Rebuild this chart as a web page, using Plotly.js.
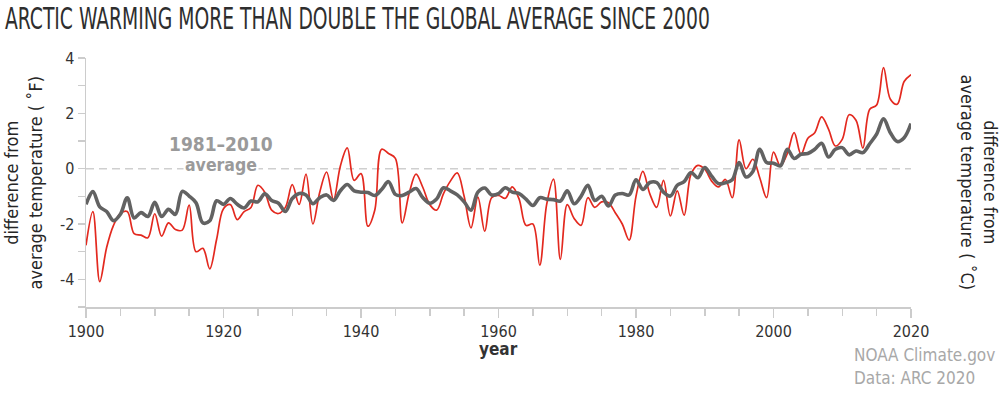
<!DOCTYPE html>
<html>
<head>
<meta charset="utf-8">
<script src="https://cdn.plot.ly/plotly-3.0.1.min.js"></script>
<style>html,body{margin:0;padding:0;background:#fff;}#chart{width:1000px;height:394px;}</style>
</head>
<body>
<div id="chart"></div>
<script>
const years = [1900,1901,1902,1903,1904,1905,1906,1907,1908,1909,
1910,1911,1912,1913,1914,1915,1916,1917,1918,1919,
1920,1921,1922,1923,1924,1925,1926,1927,1928,1929,
1930,1931,1932,1933,1934,1935,1936,1937,1938,1939,
1940,1941,1942,1943,1944,1945,1946,1947,1948,1949,
1950,1951,1952,1953,1954,1955,1956,1957,1958,1959,
1960,1961,1962,1963,1964,1965,1966,1967,1968,1969,
1970,1971,1972,1973,1974,1975,1976,1977,1978,1979,
1980,1981,1982,1983,1984,1985,1986,1987,1988,1989,
1990,1991,1992,1993,1994,1995,1996,1997,1998,1999,
2000,2001,2002,2003,2004,2005,2006,2007,2008,2009,
2010,2011,2012,2013,2014,2015,2016,2017,2018,2019,2020];

// Arctic temperature anomaly (°F, vs 1981–2010)
const arcticF = [-2.77,-1.55,-4.08,-2.85,-2.05,-1.62,-1.55,-2.35,-2.4,-2.5,
-1.63,-2.44,-1.96,-2.2,-2.22,-1.32,-3.0,-2.88,-3.62,-2.55,
-1.45,-1.3,-1.84,-1.55,-1.4,-0.6,-0.85,-1.5,-1.62,-1.4,
-0.58,-1.29,-0.2,-2.0,-0.85,-0.12,-1.12,0.1,0.75,-0.42,
-0.18,-2.08,-1.5,0.7,0.55,0.37,-1.96,-0.9,-0.2,-0.68,
-1.3,-1.5,-0.9,-0.45,-0.15,-1.0,-2.14,-1.03,-2.26,-1.05,
-0.97,-1.07,-0.66,-1.1,-2.05,-2.0,-3.49,-1.3,-0.38,-3.28,
-1.3,-1.8,-2.05,-1.05,-1.4,-1.2,-1.23,-1.6,-2.0,-2.58,
-1.0,-0.1,-0.9,-1.4,-0.42,-1.71,-0.8,-1.68,-0.2,0.12,
-0.02,-0.45,-0.66,-0.39,-1.05,1.04,0.0,0.34,-0.33,-1.05,
0.6,0.1,0.54,1.3,0.52,1.1,1.3,1.87,1.43,0.82,
1.06,1.95,1.75,0.74,2.15,2.3,3.65,2.51,2.33,3.15,3.4];

// Global temperature anomaly (°F, vs 1981–2010)
const globalF = [-1.29,-0.83,-1.38,-1.55,-1.88,-1.65,-1.05,-1.78,-1.59,-1.73,
-1.22,-1.73,-1.47,-1.65,-0.82,-0.99,-1.23,-1.96,-1.88,-1.16,
-1.29,-1.08,-1.29,-1.42,-1.17,-1.2,-0.91,-1.15,-1.25,-1.55,
-1.08,-0.9,-0.95,-1.27,-1.05,-0.95,-1.15,-0.8,-0.57,-0.8,
-0.85,-0.86,-0.97,-0.75,-0.47,-0.93,-0.97,-0.85,-0.72,-1.05,
-1.25,-1.1,-0.69,-0.8,-0.95,-1.2,-1.5,-0.85,-0.7,-0.95,
-0.9,-0.69,-0.85,-0.9,-1.1,-1.33,-1.05,-1.1,-1.12,-1.17,
-0.8,-1.27,-1.0,-0.6,-1.15,-1.0,-1.35,-0.95,-0.9,-0.95,
-0.4,-0.75,-0.5,-0.5,-0.85,-0.99,-0.6,-0.47,-0.14,-0.33,
0.04,-0.27,-0.54,-0.51,-0.4,0.22,-0.3,-0.1,0.7,0.22,
0.2,0.1,0.7,0.37,0.52,0.55,0.7,0.92,0.42,0.7,
0.76,0.5,0.64,0.58,0.9,1.25,1.8,1.3,0.98,1.12,1.63];

const xTickVals = [1900,1920,1940,1960,1980,2000,2020];
const xTickText = ['1900','1920','1940','1960','1980','2000','2020'];
const yFTickVals = [-4,-2,0,2,4];
const yFTickText = ['-4','-2','0','2','4'];
const yFMinorVals = [-5,-3,-1,1,3];
const yCTickVals = [-2,-1,0,1,2];
const yCTickText = ['-2','-1','0','1','2'];
const yCMinorVals = [-2.5,-1.5,-0.5,0.5,1.5];

const titleText = 'ARCTIC WARMING MORE THAN DOUBLE THE GLOBAL AVERAGE SINCE 2000';
const yLeftTitle = 'difference from<br>average temperature ( \u02DAF)';
const yRightTitle = 'difference from<br>average temperature ( \u02DAC)';
const xTitle = 'year';
const avgLabel1 = '1981\u20132010';
const avgLabel2 = 'average';
const credit1 = 'NOAA Climate.gov';
const credit2 = 'Data: ARC 2020';

const FONT = 'DejaVu Sans Condensed, DejaVu Sans, sans-serif';
const F_MIN = -5, F_MAX = 4;
const TITLE_WIDTH = 705;

const traces = [
  {x: years, y: arcticF, type: 'scatter', mode: 'lines',
   line: {color: '#e3291f', width: 1.7, shape: 'spline', smoothing: 1}, hoverinfo: 'skip'},
  {x: years, y: globalF, type: 'scatter', mode: 'lines',
   line: {color: '#626262', width: 3.6, shape: 'spline', smoothing: 1}, hoverinfo: 'skip'}
];

const axisTick = {ticks: 'outside', tickwidth: 1.5, tickcolor: '#cccccc'};

const layout = {
  width: 1000, height: 394,
  margin: {l: 86, r: 89, t: 58, b: 87, pad: 0},
  paper_bgcolor: '#fff', plot_bgcolor: '#fff',
  showlegend: false,
  font: {family: FONT, size: 16, color: '#333'},
  title: {text: titleText, x: 0.005, xanchor: 'left', xref: 'container',
          y: 0.953, yanchor: 'middle', yref: 'container',
          font: {family: 'DejaVu Sans Condensed, DejaVu Sans, sans-serif', size: 31, color: '#2e2e2e'}},
  xaxis: Object.assign({range: [1900, 2020], showgrid: false, zeroline: false,
          showline: true, linecolor: '#cccccc', linewidth: 1.5,
          tickmode: 'array', tickvals: xTickVals, ticktext: xTickText, ticklen: 9,
          minor: {dtick: 5, tick0: 1900, ticks: 'outside', ticklen: 7, tickwidth: 1.5, tickcolor: '#cccccc', showgrid: false},
          tickfont: {family: FONT, size: 16, color: '#333'}, fixedrange: true}, axisTick),
  yaxis: Object.assign({range: [F_MIN, F_MAX], showgrid: false, zeroline: false,
          showline: true, linecolor: '#cccccc', linewidth: 1.5,
          tickmode: 'array', tickvals: yFTickVals, ticktext: yFTickText, ticklen: 7,
          minor: {tickmode: 'array', tickvals: yFMinorVals, ticks: 'outside', ticklen: 7, tickwidth: 1.5, tickcolor: '#cccccc', showgrid: false},
          tickfont: {family: FONT, size: 16, color: '#333'}, fixedrange: true}, axisTick),
  yaxis2: Object.assign({range: [F_MIN / 1.8, F_MAX / 1.8], overlaying: 'y', side: 'right',
          showgrid: false, zeroline: false,
          showline: true, linecolor: '#cccccc', linewidth: 1.5,
          tickmode: 'array', tickvals: yCTickVals, ticktext: yCTickText, ticklen: 7,
          minor: {tickmode: 'array', tickvals: yCMinorVals, ticks: 'outside', ticklen: 7, tickwidth: 1.5, tickcolor: '#cccccc', showgrid: false},
          tickfont: {family: FONT, size: 16, color: '#333'}, fixedrange: true}, axisTick),
  shapes: [
    {type: 'line', xref: 'x', yref: 'y', x0: 1900, x1: 2020, y0: 0, y1: 0,
     layer: 'below', line: {color: '#cfcfcf', width: 1.5, dash: '8px,5px'}}
  ],
  annotations: [
    {text: yLeftTitle, xref: 'paper', yref: 'paper', x: -0.0764, y: 0.5,
     xanchor: 'center', yanchor: 'middle', textangle: -90, showarrow: false,
     font: {family: FONT, size: 18, color: '#262626'}},
    {text: yRightTitle, xref: 'paper', yref: 'paper', x: 1.0835, y: 0.5,
     xanchor: 'center', yanchor: 'middle', textangle: 90, showarrow: false,
     font: {family: FONT, size: 18, color: '#262626'}},
    {text: xTitle, xref: 'paper', yref: 'paper', x: 0.5, y: -0.168,
     xanchor: 'center', yanchor: 'middle', showarrow: false,
     font: {family: FONT, size: 17, color: '#333', weight: 'bold'}},
    {text: avgLabel1, xref: 'x', yref: 'y', x: 1919.7, y: 0.895,
     xanchor: 'center', yanchor: 'middle', showarrow: false,
     font: {family: FONT, size: 19, color: '#9a9a9a', weight: 'bold'}},
    {text: avgLabel2, xref: 'x', yref: 'y', x: 1919.7, y: 0.12,
     xanchor: 'center', yanchor: 'middle', showarrow: false, bgcolor: '#ffffff', borderpad: 1,
     font: {family: FONT, size: 17.5, color: '#9a9a9a', weight: 'bold'}},
    {text: credit1, xref: 'paper', yref: 'paper', x: 0.9285, y: -0.193,
     xanchor: 'left', yanchor: 'middle', showarrow: false,
     font: {family: FONT, size: 17, color: '#a8a8a8'}},
    {text: credit2, xref: 'paper', yref: 'paper', x: 0.9285, y: -0.285,
     xanchor: 'left', yanchor: 'middle', showarrow: false,
     font: {family: FONT, size: 17, color: '#a8a8a8'}}
  ]
};

Plotly.newPlot('chart', traces, layout, {staticPlot: true, displayModeBar: false}).then(function (gd) {
  // condense the headline horizontally so it matches the narrow display face of the original
  const t = gd.querySelector('text.gtitle');
  if (t && t.getComputedTextLength) {
    const w = t.getComputedTextLength();
    const x0 = parseFloat(t.getAttribute('x')) || 0;
    if (w > 0) {
      const sx = TITLE_WIDTH / w;
      t.setAttribute('transform', 'matrix(' + sx + ',0,0,1,' + (x0 * (1 - sx)) + ',0)');
    }
  }
});
</script>
</body>
</html>
